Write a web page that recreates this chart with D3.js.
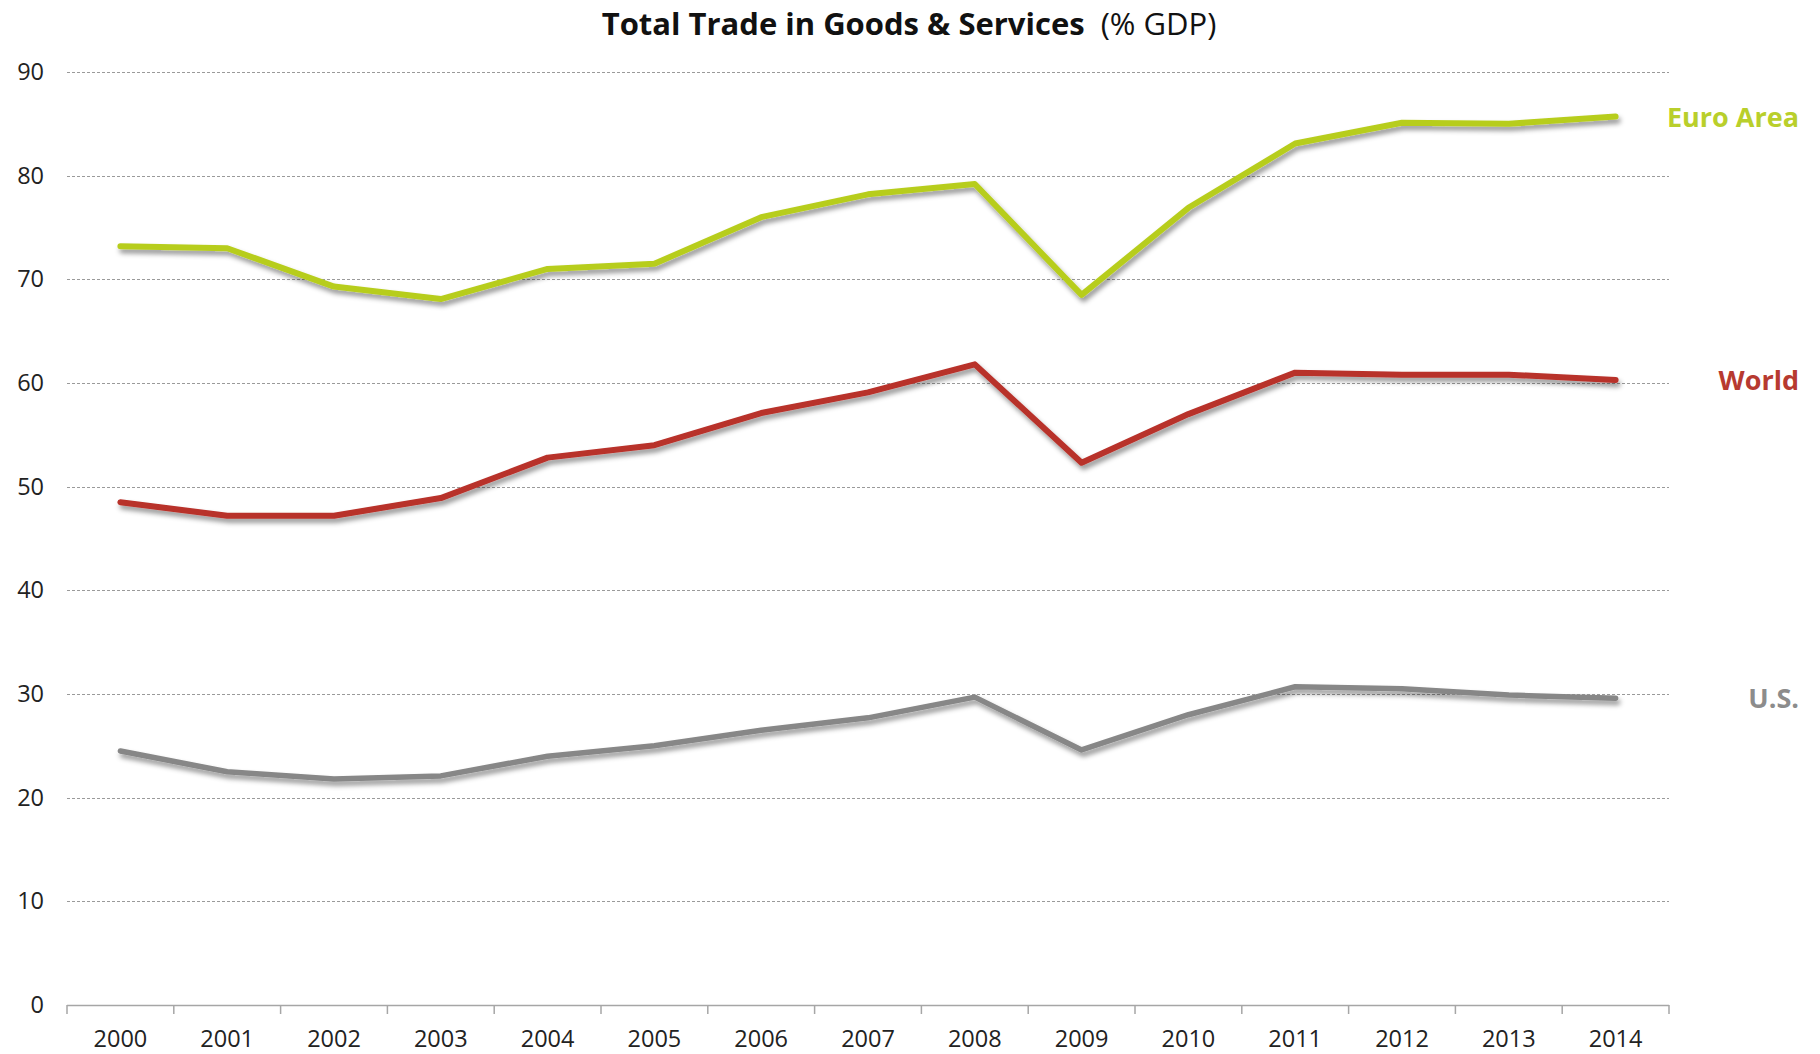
<!DOCTYPE html>
<html>
<head>
<meta charset="utf-8">
<script src="https://cdn.jsdelivr.net/npm/d3@7"></script>
<style>
  html, body { margin: 0; padding: 0; background: #fff; }
  svg { display: block; }
  text { font-family: "Open Sans", "Noto Sans", sans-serif; }
</style>
</head>
<body>
<svg id="chart" width="1820" height="1054"></svg>
<script>
// Total trade in goods & services, % of GDP
const years = ["2000","2001","2002","2003","2004","2005","2006","2007","2008","2009","2010","2011","2012","2013","2014"];
const euroArea = [73.2, 73.0, 69.3, 68.1, 71.0, 71.5, 76.0, 78.2, 79.2, 68.5, 76.9, 83.1, 85.1, 85.0, 85.7];
const world    = [48.5, 47.2, 47.2, 48.9, 52.8, 54.0, 57.1, 59.1, 61.8, 52.3, 57.0, 61.0, 60.8, 60.8, 60.3];
const us       = [24.5, 22.5, 21.8, 22.1, 24.0, 25.0, 26.5, 27.7, 29.7, 24.6, 28.0, 30.7, 30.5, 29.9, 29.6];
const yTicks   = [0, 10, 20, 30, 40, 50, 60, 70, 80, 90];

const series = [
  { name: "Euro Area", values: euroArea, color: "#b7cd1f", label: "#b9cf2b", width: 6 },
  { name: "World",     values: world,    color: "#b8302a", label: "#b73a30", width: 6 },
  { name: "U.S.",      values: us,       color: "#878787", label: "#8c8c8c", width: 5.5 }
];

const svg = d3.select("#chart");
const plotLeft = 67, plotRight = 1669, plotTop = 72, plotBottom = 1005;

const x = d3.scaleBand().domain(years).range([plotLeft, plotRight]);
const y = d3.scaleLinear().domain([0, 90]).range([plotBottom, plotTop]);

// drop shadow under the lines
const defs = svg.append("defs");
const f = defs.append("filter").attr("id", "shadow")
  .attr("x", "-5%").attr("y", "-20%").attr("width", "110%").attr("height", "140%");
f.append("feDropShadow")
  .attr("dx", 2).attr("dy", 4).attr("stdDeviation", 2.8)
  .attr("flood-color", "#000").attr("flood-opacity", 0.42);

// title
const title = svg.append("text")
  .attr("x", 909).attr("y", 35)
  .attr("text-anchor", "middle")
  .style("font-size", "31px").style("fill", "#111");
title.append("tspan").style("font-weight", "bold").text("Total Trade in Goods & Services");
title.append("tspan").attr("dx", 16).style("font-weight", "normal").text("(% GDP)");

// dashed gridlines
svg.append("g")
  .selectAll("line")
  .data(yTicks.filter(d => d > 0))
  .join("line")
  .attr("x1", plotLeft).attr("x2", plotRight)
  .attr("y1", d => Math.round(y(d)) + 0.5).attr("y2", d => Math.round(y(d)) + 0.5)
  .attr("stroke", "#9a9a9a").attr("stroke-width", 1)
  .attr("stroke-dasharray", "3,2");

// y axis labels
const yAxis = d3.axisLeft(y).tickValues(yTicks).tickSize(0).tickPadding(23);
svg.append("g")
  .attr("transform", `translate(${plotLeft},0)`)
  .call(yAxis)
  .call(g => g.select(".domain").remove())
  .call(g => g.selectAll("text")
    .style("font-family", "'Open Sans', sans-serif")
    .style("font-size", "23.5px").style("fill", "#222"));

// x axis: baseline with ticks at category boundaries
const xg = svg.append("g").attr("transform", `translate(0,${plotBottom})`);
xg.append("line")
  .attr("x1", plotLeft).attr("x2", plotRight).attr("y1", 0.5).attr("y2", 0.5)
  .attr("stroke", "#a6a6a6").attr("stroke-width", 1.5);
const bounds = years.map(d => x(d)).concat([plotRight]);
xg.selectAll("line.tick")
  .data(bounds)
  .join("line").attr("class", "tick")
  .attr("x1", d => d).attr("x2", d => d)
  .attr("y1", 0).attr("y2", 9)
  .attr("stroke", "#a6a6a6").attr("stroke-width", 1.5);
xg.selectAll("text")
  .data(years)
  .join("text")
  .attr("x", d => x(d) + x.bandwidth() / 2)
  .attr("y", 41.5)
  .attr("text-anchor", "middle")
  .style("font-size", "23.5px").style("fill", "#222")
  .text(d => d);

// series lines
const line = d3.line()
  .x((d, i) => x(years[i]) + x.bandwidth() / 2)
  .y(d => y(d))
  .curve(d3.curveLinear);

const lines = svg.append("g");
series.slice().reverse().forEach(s => {
  lines.append("path")
    .datum(s.values)
    .attr("d", line)
    .attr("fill", "none")
    .attr("stroke", s.color)
    .attr("stroke-width", s.width)
    .attr("stroke-linejoin", "round")
    .attr("stroke-linecap", "round")
    .attr("filter", "url(#shadow)");
});

// series name labels at the right edge, level with each line's last value
svg.append("g")
  .selectAll("text")
  .data(series)
  .join("text")
  .attr("x", 1799)
  .attr("y", d => y(d.values[d.values.length - 1]) + 10)
  .attr("text-anchor", "end")
  .style("font-size", "27px").style("font-weight", "bold")
  .style("fill", d => d.label)
  .text(d => d.name);
</script>
</body>
</html>
